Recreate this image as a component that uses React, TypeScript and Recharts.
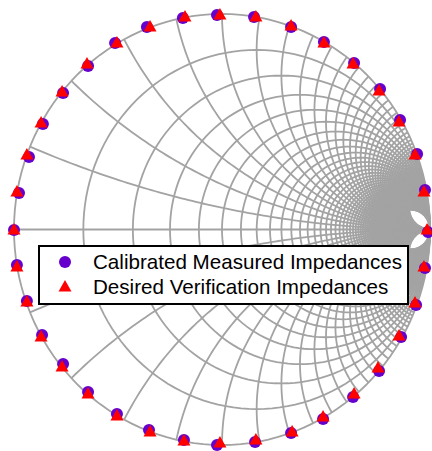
import React from 'react';
import { ComposedChart, Line, Scatter, XAxis, YAxis, Legend } from 'recharts';

const measuredRe = [-0.024, -0.188, -0.361, -0.514, -0.644, -0.764, -0.861, -0.928, -0.976, -1.0, -0.986, -0.938, -0.865, -0.764, -0.644, -0.505, -0.351, -0.183, -0.024, 0.159, 0.332, 0.486, 0.63, 0.755, 0.861, 0.933, 0.976, 0.99, 0.976, 0.938, 0.856, 0.76, 0.635, 0.49, 0.332, 0.154];
const measuredIm = [0.995, 0.981, 0.94, 0.865, 0.759, 0.633, 0.49, 0.336, 0.169, -0.002, -0.165, -0.332, -0.49, -0.624, -0.754, -0.856, -0.93, -0.977, -1.0, -0.986, -0.944, -0.879, -0.777, -0.657, -0.499, -0.35, -0.179, -0.012, 0.183, 0.35, 0.508, 0.652, 0.773, 0.87, 0.94, 0.986];
const desiredRe = [-0.01, -0.178, -0.346, -0.505, -0.649, -0.769, -0.87, -0.938, -0.986, -1.0, -0.986, -0.938, -0.87, -0.769, -0.644, -0.505, -0.346, -0.183, -0.01, 0.163, 0.337, 0.486, 0.635, 0.75, 0.851, 0.928, 0.971, 0.986, 0.971, 0.928, 0.851, 0.755, 0.63, 0.49, 0.332, 0.163];
const desiredIm = [0.995, 0.986, 0.94, 0.865, 0.768, 0.638, 0.494, 0.346, 0.174, -0.002, -0.174, -0.336, -0.499, -0.638, -0.763, -0.865, -0.94, -0.981, -0.991, -0.977, -0.94, -0.87, -0.763, -0.643, -0.494, -0.341, -0.174, -0.002, 0.174, 0.346, 0.499, 0.643, 0.768, 0.865, 0.944, 0.986];
const legendLabels = ['Calibrated Measured Impedances', 'Desired Verification Impedances'];

// Smith chart grid values
const GRID_STEP = 0.2;
const GRID_MAX = 10;

const MEAS_COLOR = '#6600CC';
const DES_COLOR = '#FF0000';
const GRID_COLOR = '#A3A3A3';

const measured = measuredRe.map((x, i) => ({ x, y: measuredIm[i] }));
const desired = desiredRe.map((x, i) => ({ x, y: desiredIm[i] }));

const clamp = (v: number) => Math.max(-1, Math.min(1, v));

const gridValues: number[] = [];
for (let i = 1; i * GRID_STEP <= GRID_MAX + 1e-9; i++) gridValues.push(+(i * GRID_STEP).toFixed(2));

function resistanceCircle(r: number) {
  const c = r / (1 + r);
  const rad = 1 / (1 + r);
  const n = 140;
  const pts = [];
  for (let k = 0; k <= n; k++) {
    const a = (k / n) * Math.PI * 2;
    pts.push({ x: clamp(c + rad * Math.cos(a)), y: clamp(rad * Math.sin(a)) });
  }
  return pts;
}

function reactanceArc(xv: number) {
  const n = 90;
  const pts = [];
  for (let k = 0; k <= n; k++) {
    if (k === n) {
      pts.push({ x: 1, y: 0 });
      break;
    }
    const r = Math.tan((k / n) * (Math.PI / 2));
    const den = (r + 1) * (r + 1) + xv * xv;
    pts.push({ x: clamp((r * r - 1 + xv * xv) / den), y: clamp((2 * xv) / den) });
  }
  return pts;
}

const gridCurves: { key: string; pts: { x: number; y: number }[] }[] = [];
gridCurves.push({ key: 'outer', pts: resistanceCircle(0) });
gridCurves.push({ key: 'axis', pts: [{ x: -1, y: 0 }, { x: 1, y: 0 }] });
gridValues.forEach((v) => {
  gridCurves.push({ key: 'r' + v, pts: resistanceCircle(v) });
  gridCurves.push({ key: 'xp' + v, pts: reactanceArc(v) });
  gridCurves.push({ key: 'xn' + v, pts: reactanceArc(-v) });
});

const CircleShape = (props: any) => {
  const { cx, cy } = props;
  if (cx == null || cy == null) return null;
  return <circle cx={cx} cy={cy} r={6} fill={MEAS_COLOR} />;
};

const TriangleShape = (props: any) => {
  const { cx, cy } = props;
  if (cx == null || cy == null) return null;
  return (
    <path
      d={`M${cx},${cy - 7}L${cx + 6.5},${cy + 4.5}L${cx - 6.5},${cy + 4.5}Z`}
      fill={DES_COLOR}
    />
  );
};

const LegendBox = () => (
  <svg width={371} height={60} style={{ display: 'block' }}>
    <rect x={1} y={1} width={369} height={58} fill="#fff" stroke="#000" strokeWidth={2} />
    <circle cx={27} cy={17} r={6} fill={MEAS_COLOR} />
    <path d="M27,35L33.5,46.5L20.5,46.5Z" fill={DES_COLOR} />
    <text x={55} y={24} fontFamily="'Liberation Sans', Arial, sans-serif" fontSize={20.6} fill="#000">
      {legendLabels[0]}
    </text>
    <text x={55} y={48.5} fontFamily="'Liberation Sans', Arial, sans-serif" fontSize={20.6} fill="#000">
      {legendLabels[1]}
    </text>
  </svg>
);

export default function App() {
  return (
    <div style={{ position: 'absolute', left: 0, top: 0, background: '#fff' }}>
      <ComposedChart
        width={432}
        height={451}
        margin={{ top: 14, right: 2, bottom: 6, left: 14 }}
      >
        <XAxis type="number" dataKey="x" domain={[-1, 1]} hide />
        <YAxis type="number" dataKey="y" domain={[-1, 1]} hide />
        {gridCurves.map((c) => (
          <Line
            key={c.key}
            data={c.pts}
            dataKey="y"
            type="linear"
            dot={false}
            activeDot={false}
            stroke={GRID_COLOR}
            strokeWidth={1.8}
            isAnimationActive={false}
            legendType="none"
          />
        ))}
        <Scatter data={measured} dataKey="y" shape={CircleShape} isAnimationActive={false} />
        <Scatter data={desired} dataKey="y" shape={TriangleShape} isAnimationActive={false} />
        <Legend
          layout="horizontal"
          verticalAlign="middle"
          align="center"
          content={() => <LegendBox />}
          wrapperStyle={{ left: 38, top: 245, width: 371, height: 60 }}
        />
      </ComposedChart>
    </div>
  );
}
